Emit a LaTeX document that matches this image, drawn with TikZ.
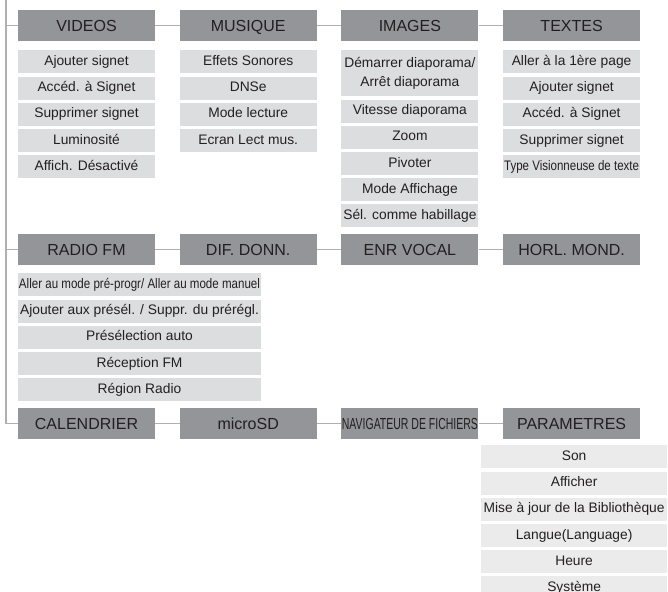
\documentclass[tikz,border=0pt]{standalone}
\usepackage{fontspec}
\setmainfont{Liberation Sans}
\usepackage{graphicx}
\usepackage{tikz}
\usetikzlibrary{positioning}

\definecolor{hdrgray}{HTML}{949598}
\definecolor{itemgray}{HTML}{DCDDDF}
\definecolor{itemlight}{HTML}{EBEBEB}
\definecolor{linegray}{HTML}{B0B0B0}
\definecolor{txtdark}{HTML}{231F20}

% squeeze a text to a given width (horizontal only)
\newcommand{\fitw}[2]{\resizebox{#1}{\height}{#2}}

\begin{document}
\begin{tikzpicture}[
    x=1pt, y=-1pt,
    % --- STYLES ---
    menu/.style={
        rectangle, fill=hdrgray, text=txtdark,
        minimum width=137pt, minimum height=31pt,
        inner sep=0pt, text height=11.6pt, text depth=0pt,
        font=\fontsize{16}{19}\selectfont
    },
    item/.style={
        rectangle, fill=itemgray, text=txtdark,
        minimum width=137pt, minimum height=23pt,
        inner sep=0pt, align=center,
        text height=9.9pt, text depth=2.9pt,
        font=\fontsize{13.8}{19.3}\selectfont
    },
    twoline/.style={item, minimum height=46pt, text height=, text depth=},
    wide/.style={item, minimum width=243pt},
    setting/.style={item, fill=itemlight, minimum width=186pt},
    branch/.style={draw=linegray, line width=1.2pt}
]

\useasboundingbox (0,0) rectangle (668,591);
\clip (0,0) rectangle (668,591);

% ===== 1. COORDINATES & HEADERS =====
\def\xMenu{86.5}
\def\hGap{24.3pt}
\def\iGap{2.8pt}

\coordinate (trunk) at (6,0);

% Row 1
\node[menu] (videos) at (\xMenu, 25.5) {VIDEOS};
\node[menu, right=\hGap of videos] (musique) {MUSIQUE};
\node[menu, right=\hGap of musique] (images) {IMAGES};
\node[menu, right=\hGap of images] (textes) {TEXTES};

% Row 2
\node[menu] (radio) at (\xMenu, 249.5) {RADIO FM};
\node[menu, right=\hGap of radio] (difdonn) {DIF. DONN.};
\node[menu, right=\hGap of difdonn] (vocal) {ENR VOCAL};
\node[menu, right=\hGap of vocal] (horl) {HORL. MOND.};

% Row 3
\node[menu] (cal) at (\xMenu, 423.5) {CALENDRIER};
\node[menu, right=\hGap of cal] (microsd) {microSD};
\node[menu, right=\hGap of microsd] (navig) {\fitw{136pt}{NAVIGATEUR DE FICHIERS}};
\node[menu, right=\hGap of navig] (param) {PARAMETRES};

% ===== 2. SUB MENUS =====

% -- Videos --
\node[item, below=9pt of videos] (v1) {Ajouter signet};
\node[item, below=\iGap of v1] (v2) {Accéd. à Signet};
\node[item, below=\iGap of v2] (v3) {Supprimer signet};
\node[item, below=\iGap of v3] (v4) {Luminosité};
\node[item, below=\iGap of v4] (v5) {Affich. Désactivé};

% -- Musique --
\node[item, below=9pt of musique] (m1) {Effets Sonores};
\node[item, below=\iGap of m1] (m2) {DNSe};
\node[item, below=\iGap of m2] (m3) {Mode lecture};
\node[item, below=\iGap of m3] (m4) {Ecran Lect mus.};

% -- Images --
\node[twoline, below=9pt of images] (i1) {Démarrer diaporama/\\ Arrêt diaporama};
\node[item, below=\iGap of i1] (i2) {Vitesse diaporama};
\node[item, below=\iGap of i2] (i3) {Zoom};
\node[item, below=\iGap of i3] (i4) {Pivoter};
\node[item, below=\iGap of i4] (i5) {Mode Affichage};
\node[item, below=\iGap of i5] (i6) {Sél. comme habillage};

% -- Textes --
\node[item, below=9pt of textes] (t1) {Aller à la 1ère page};
\node[item, below=\iGap of t1] (t2) {Ajouter signet};
\node[item, below=\iGap of t2] (t3) {Accéd. à Signet};
\node[item, below=\iGap of t3] (t4) {Supprimer signet};
\node[item, below=\iGap of t4] (t5) {\fitw{135pt}{Type Visionneuse de texte}};

% -- Radio FM --
\node[wide, below right=8pt and 0pt of radio.south west] (r1) {\fitw{241pt}{Aller au mode pré-progr/ Aller au mode manuel}};
\node[wide, below=\iGap of r1] (r2) {Ajouter aux présél. / Suppr. du prérégl.};
\node[wide, below=\iGap of r2] (r3) {Présélection auto};
\node[wide, below=\iGap of r3] (r4) {Réception FM};
\node[wide, below=\iGap of r4] (r5) {Région Radio};

% -- Parametres --
\node[setting, below=6pt of param, xshift=2.5pt] (p1) {Son};
\node[setting, below=\iGap of p1] (p2) {Afficher};
\node[setting, below=\iGap of p2] (p3) {Mise à jour de la Bibliothèque};
\node[setting, below=\iGap of p3] (p4) {Langue(Language)};
\node[setting, below=\iGap of p4] (p5) {Heure};
\node[setting, below=\iGap of p5] (p6) {Système};

% ===== 3. CONNECTIONS =====

% Trunk on the left
\draw[branch] (trunk) |- (cal);
\draw[branch] (trunk |- videos) -- (videos);
\draw[branch] (trunk |- radio) -- (radio);

% Header chains
\draw[branch] (videos) -- (musique);
\draw[branch] (musique) -- (images);
\draw[branch] (images) -- (textes);

\draw[branch] (radio) -- (difdonn);
\draw[branch] (difdonn) -- (vocal);
\draw[branch] (vocal) -- (horl);

\draw[branch] (cal) -- (microsd);
\draw[branch] (microsd) -- (navig);
\draw[branch] (navig) -- (param);

\end{tikzpicture}
\end{document}
